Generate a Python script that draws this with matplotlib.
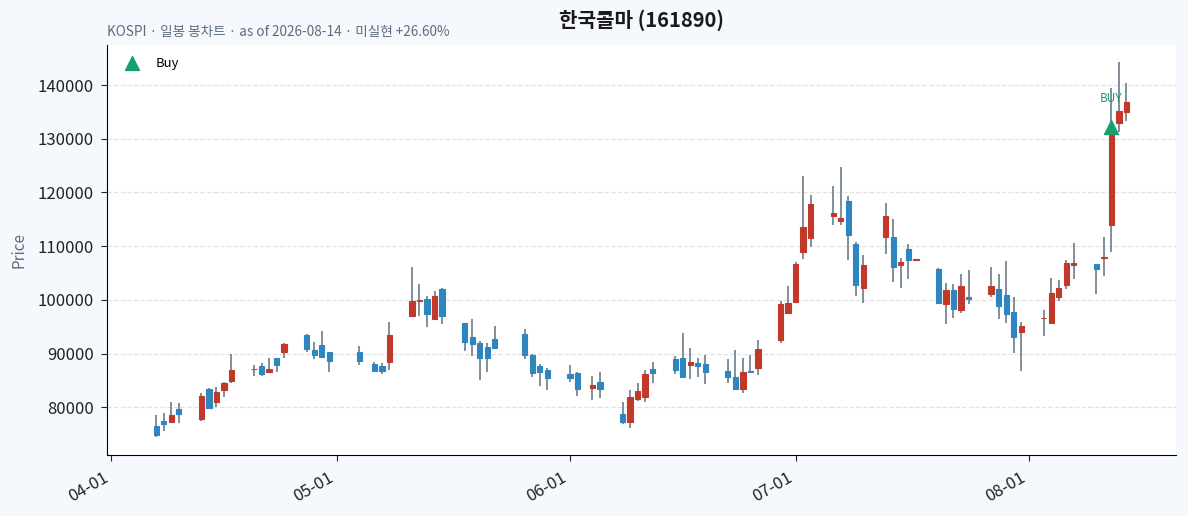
import numpy as np
import pandas as pd
import matplotlib
matplotlib.use("Agg")
import matplotlib.pyplot as plt
import matplotlib.dates as mdates

plt.rcParams['font.family'] = ['Noto Sans CJK KR', 'DejaVu Sans']

# trading days (KRX holidays removed)
holidays = ['2026-05-01', '2026-05-05', '2026-05-25', '2026-06-03']
dates = pd.bdate_range('2026-04-07', '2026-08-14')
dates = dates[~dates.isin(pd.to_datetime(holidays))]

# daily OHLC
opens = [76500, 77400, 77300, 79700, 77900, 83400, 81050, 83250, 84950, 87100,
         87600, 86500, 89150, 90300, 93400, 90600, 91650, 90250,
         90350, 88050, 87600, 88450, 96950, 99700, 100200, 96450, 102000, 95600,
         93000, 92000, 91150, 92800, 93550, 89700, 87650, 86950,
         86200, 86350, 83650, 84700, 78750, 77300, 81550, 82000, 87100, 88950,
         89250, 87900, 88200, 88000, 86750, 85600, 83450, 86700, 87350, 92550, 97550,
         99550, 108950, 111550, 115650, 114700, 118450, 110450, 102250, 111750, 111750,
         106450, 109500, 107450, 105650, 99200, 101750, 98050, 100450, 101050, 102100,
         100950, 97750, 93950,
         96550, 95750, 100500, 102750, 106500, 106650, 107750, 113950, 133000, 135050]
highs = [78600, 78900, 80900, 80700, 82600, 83600, 83750, 84700, 89950, 87850,
         88150, 89250, 89250, 92050, 93600, 92200, 94150, 90300,
         91350, 88350, 88150, 95900, 106200, 102900, 100700, 101600, 102150, 95750,
         96500, 92250, 92000, 95050, 94500, 90000, 88050, 87250,
         87850, 86550, 85750, 86650, 80900, 83150, 84450, 86850, 88500, 89450,
         93900, 91100, 89250, 89650, 89050, 90600, 89250, 89650, 92450, 99750, 102650,
         107050, 123150, 119600, 121250, 124800, 119400, 110700, 108350, 118100, 115100,
         107850, 110450, 107600, 105950, 103150, 103000, 104850, 105600, 106100, 104800,
         107300, 100550, 95900,
         98200, 104150, 103750, 107500, 110650, 106700, 111650, 139400, 144300, 140350]
lows = [74450, 75500, 77000, 77150, 77450, 79700, 80050, 81850, 84600, 85800,
        85850, 86400, 86650, 89250, 90200, 88900, 89250, 86600,
        87950, 86600, 86150, 86850, 96900, 97000, 94850, 96400, 95500, 90550,
        89450, 85050, 86600, 90900, 89000, 85600, 83950, 83150,
        84650, 82150, 81400, 81650, 76800, 76100, 81250, 81050, 84450, 86250,
        85600, 85200, 85550, 84250, 84450, 83400, 82600, 86400, 86050, 92000, 97300,
        99500, 107650, 109900, 114000, 114000, 107450, 100750, 99450, 108600, 103350,
        102250, 103900, 107400, 99250, 95500, 96650, 97550, 99250, 100550, 96450,
        95700, 90100, 86750,
        93200, 95650, 99750, 102050, 103900, 101100, 104500, 108900, 131200, 133250]
closes = [74750, 76800, 78600, 78800, 82100, 79900, 82850, 84500, 86900, 87050,
          86250, 87100, 87900, 91750, 90850, 89750, 89400, 88650,
          88650, 86750, 86800, 93500, 99800, 100000, 97300, 100650, 96950, 92200,
          91800, 89250, 89250, 91050, 89750, 86450, 86600, 85500,
          85500, 83450, 84150, 83450, 77300, 81900, 83000, 86150, 86400, 86950,
          85700, 88400, 87700, 86500, 85700, 83450, 86550, 86650, 90800, 99300, 99500,
          106650, 113600, 117800, 116250, 115150, 112150, 102750, 106550, 115650, 106150,
          107100, 107450, 107550, 99400, 101750, 98250, 102500, 100200, 102500, 98800,
          97400, 93050, 95200,
          96650, 101300, 102250, 106900, 106800, 105750, 107900, 130950, 135200, 136800]

buy_dates = ['2026-08-12']
buy_label = 'BUY'

UP = '#c0392b'
DOWN = '#2e86c1'
WICK = '#6c7a89'
GREEN = '#17a06c'

o = np.array(opens, dtype=float)
h = np.array(highs, dtype=float)
l = np.array(lows, dtype=float)
c = np.array(closes, dtype=float)
x = mdates.date2num(dates)

fig = plt.figure(figsize=(11.88, 5.16), dpi=100, facecolor='#f5f8fc')
ax = fig.add_axes([0.0901, 0.1176, 0.8998, 0.7952])
ax.set_facecolor('white')

up = c >= o
colors = np.where(up, UP, DOWN)
ax.vlines(x, l, h, color=WICK, linewidth=1.2, zorder=2)
body_low = np.minimum(o, c)
body_h = np.maximum(np.abs(c - o), 1)
ax.bar(x, body_h, bottom=body_low, width=0.7, color=colors,
       edgecolor=colors, linewidth=0.8, zorder=3)

# buy marker
bx = mdates.date2num(pd.to_datetime(buy_dates))
bidx = [list(dates).index(pd.Timestamp(d)) for d in buy_dates]
by = c[bidx]
ax.scatter(bx, by * 1.01, marker='^', s=100, color=GREEN, zorder=5, label='Buy')
for xx, yy in zip(bx, by):
    ax.text(xx, yy * 1.04, buy_label, color=GREEN, fontsize=8.5, ha='center',
            va='bottom', zorder=5)

ax.set_xlim(mdates.date2num(pd.Timestamp('2026-03-31 11:00')),
            mdates.date2num(pd.Timestamp('2026-08-20 14:00')))
ax.set_ylim(71050, 147450)
ax.set_yticks(np.arange(80000, 140001, 10000))
ax.xaxis.set_major_locator(mdates.MonthLocator())
ax.xaxis.set_major_formatter(mdates.DateFormatter('%m-%d'))
plt.setp(ax.get_xticklabels(), rotation=30, ha='right')
ax.tick_params(labelsize=12, colors='#222222', length=4.2, pad=5.5)

ax.grid(axis='y', linestyle='--', color='#e3e3e3', linewidth=0.9)
ax.set_axisbelow(True)
for s in ['top', 'right']:
    ax.spines[s].set_visible(False)

ax.set_ylabel('Price', color='#5d6d7e', fontsize=11, labelpad=7)
ax.legend(loc='upper left', frameon=False, fontsize=9.4)

fig.text(0.5404, 1 - 20 / 516, '한국콜마 (161890)', ha='center', va='center',
         fontsize=14.5, fontweight='bold', color='#1a1a1a')
ax.text(0, 1.015, 'KOSPI · 일봉 봉차트 · as of 2026-08-14 · 미실현 +26.60%',
        transform=ax.transAxes, ha='left', va='bottom', fontsize=9.8,
        color='#5d6d7e')

fig.savefig('out.png', dpi=100, facecolor=fig.get_facecolor())
